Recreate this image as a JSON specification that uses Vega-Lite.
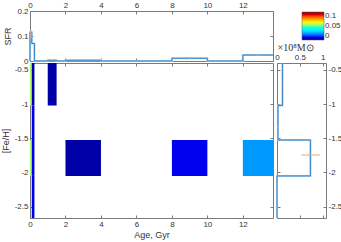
{
  "$schema": "https://vega.github.io/schema/vega-lite/v6.json",
  "padding": 0,
  "bounds": "flush",
  "spacing": 2,
  "config": {
    "font": "Liberation Sans",
    "locale": {"number": {"decimal": ".", "thousands": ",", "grouping": [3], "currency": ["$", ""], "minus": "-"}},
    "view": {"stroke": "#7a7a7a", "strokeWidth": 1},
    "axis": {"grid": false, "domain": false, "tickColor": "#7a7a7a", "tickSize": -3, "labelPadding": 5, "labelFontSize": 8, "labelColor": "#333333", "titleFontSize": 9, "titleFontWeight": "normal", "titleColor": "#333333", "labelFont": "Liberation Sans", "titleFont": "Liberation Sans", "labelFlush": false, "labelOverlap": false}
  },
  "datasets": {
    "sfr": [
      {"i": 0, "age": 0, "sfr": 0},
      {"i": 1, "age": 0, "sfr": 0.115},
      {"i": 2, "age": 0.1, "sfr": 0.07},
      {"i": 3, "age": 0.25, "sfr": 0},
      {"i": 4, "age": 1, "sfr": 0.003},
      {"i": 5, "age": 1.5, "sfr": 0},
      {"i": 6, "age": 2, "sfr": 0.003},
      {"i": 7, "age": 4, "sfr": 0},
      {"i": 8, "age": 8, "sfr": 0.011},
      {"i": 9, "age": 10, "sfr": 0},
      {"i": 10, "age": 12, "sfr": 0.024},
      {"i": 11, "age": 13.7, "sfr": 0.024}
    ],
    "sfrerr": [
      {"age": 0.05, "lo": 0.09, "hi": 0.125},
      {"age": 1.25, "lo": 0.001, "hi": 0.006},
      {"age": 9, "lo": 0.008, "hi": 0.015},
      {"age": 12.85, "lo": 0.02, "hi": 0.029}
    ],
    "cells": [
      {"a0": 0, "a1": 0.1, "f0": -1.02, "f1": -0.4, "v": 0.056},
      {"a0": 0.1, "a1": 0.25, "f0": -1.02, "f1": -0.4, "v": 0.003},
      {"a0": 0, "a1": 0.1, "f0": -2.05, "f1": -1.525, "v": 0.056},
      {"a0": 0.1, "a1": 0.25, "f0": -1.525, "f1": -1.02, "v": 0.0106},
      {"a0": 0.1, "a1": 0.25, "f0": -2.05, "f1": -1.525, "v": 0.0106},
      {"a0": 0.1, "a1": 0.25, "f0": -2.665, "f1": -2.05, "v": 0.0106},
      {"a0": 1, "a1": 1.5, "f0": -1.02, "f1": -0.4, "v": 0.003},
      {"a0": 2, "a1": 4, "f0": -2.05, "f1": -1.525, "v": 0.003},
      {"a0": 8, "a1": 10, "f0": -2.05, "f1": -1.525, "v": 0.0106},
      {"a0": 12, "a1": 13.7, "f0": -2.05, "f1": -1.525, "v": 0.0235}
    ],
    "mass": [
      {"i": 0, "m": 0.12, "f": -0.4},
      {"i": 1, "m": 0.02, "f": -1.02},
      {"i": 2, "m": 0.73, "f": -1.525},
      {"i": 3, "m": 0, "f": -2.05},
      {"i": 4, "m": 0, "f": -2.665}
    ],
    "masserr": [
      {"f": -0.72, "lo": 0.1, "hi": 0.14},
      {"f": -1.34, "lo": 0.0, "hi": 0.03},
      {"f": -1.745, "lo": 0.53, "hi": 0.94}
    ]
  },
  "vconcat": [
    {
      "width": 243,
      "height": 50,
      "resolve": {"axis": {"x": "independent", "y": "independent"}},
      "layer": [
        {
          "data": {"name": "sfr"},
          "mark": {"type": "line", "interpolate": "step-after", "color": "#a6cdec", "strokeWidth": 2},
          "encoding": {
            "x": {"field": "age", "type": "quantitative", "scale": {"domain": [0, 13.7], "nice": false, "zero": false}, "axis": {"orient": "top", "values": [0, 2, 4, 6, 8, 10, 12], "title": null}},
            "y": {"field": "sfr", "type": "quantitative", "scale": {"domain": [0, 0.2], "nice": false}, "axis": {"orient": "left", "values": [0, 0.1, 0.2], "format": "~g", "title": "SFR"}},
            "order": {"field": "i", "type": "quantitative"}
          }
        },
        {
          "data": {"name": "sfr"},
          "mark": {"type": "line", "interpolate": "step-after", "color": "#3d85c6", "strokeWidth": 1},
          "encoding": {
            "x": {"field": "age", "type": "quantitative", "axis": {"orient": "bottom", "values": [0, 2, 4, 6, 8, 10, 12], "labels": false, "title": null}},
            "y": {"field": "sfr", "type": "quantitative", "axis": {"orient": "right", "values": [0, 0.1, 0.2], "labels": false, "title": null}},
            "order": {"field": "i", "type": "quantitative"}
          }
        },
        {
          "data": {"name": "sfrerr"},
          "mark": {"type": "rule", "color": "#f2a283", "strokeWidth": 1},
          "encoding": {
            "x": {"field": "age", "type": "quantitative", "axis": null},
            "y": {"field": "lo", "type": "quantitative", "axis": null},
            "y2": {"field": "hi"}
          }
        }
      ]
    },
    {
      "spacing": 4,
      "bounds": "flush",
      "hconcat": [
        {
          "width": 243,
          "height": 155,
          "resolve": {"axis": {"x": "independent", "y": "independent"}},
          "layer": [
            {
              "data": {"name": "cells"},
              "mark": {"type": "rect"},
              "encoding": {
                "x": {"field": "a0", "type": "quantitative", "scale": {"domain": [0, 13.7], "nice": false, "zero": false}, "axis": {"orient": "bottom", "values": [0, 2, 4, 6, 8, 10, 12], "title": "Age, Gyr", "titlePadding": 2}},
                "x2": {"field": "a1"},
                "y": {"field": "f0", "type": "quantitative", "scale": {"domain": [-2.665, -0.4], "nice": false, "zero": false}, "axis": {"orient": "left", "values": [-2.5, -2, -1.5, -1, -0.5], "format": "~g", "title": "[Fe/H]"}},
                "y2": {"field": "f1"},
                "color": {
                  "field": "v", "type": "quantitative",
                  "scale": {"domain": [0, 0.0125, 0.0375, 0.0625, 0.0875, 0.1], "range": ["#00008f", "#0000ff", "#00ffff", "#ffff00", "#ff0000", "#800000"]},
                  "legend": {"orient": "none", "legendX": 272, "legendY": 1, "direction": "vertical", "gradientLength": 28, "gradientThickness": 22, "title": null, "values": [0, 0.05, 0.1], "format": "~g", "labelFontSize": 8, "labelColor": "#333333", "gradientStrokeColor": "#555555", "gradientStrokeWidth": 0.5, "labelOffset": 1}
                }
              }
            },
            {
              "data": {"name": "cells"},
              "mark": {"type": "rect", "opacity": 0},
              "encoding": {
                "x": {"field": "a0", "type": "quantitative", "axis": {"orient": "top", "values": [0, 2, 4, 6, 8, 10, 12], "labels": false, "title": null}},
                "x2": {"field": "a1"},
                "y": {"field": "f0", "type": "quantitative", "axis": {"orient": "right", "values": [-2.5, -2, -1.5, -1, -0.5], "labels": false, "title": null}},
                "y2": {"field": "f1"}
              }
            }
          ]
        },
        {
          "width": 49,
          "height": 155,
          "resolve": {"axis": {"x": "independent", "y": "independent"}},
          "layer": [
            {
              "data": {"name": "mass"},
              "mark": {"type": "line", "interpolate": "step-before", "color": "#a6cdec", "strokeWidth": 2},
              "encoding": {
                "x": {"field": "m", "type": "quantitative", "scale": {"domain": [0, 1.07], "nice": false, "zero": false}, "axis": {"orient": "top", "values": [0, 0.5, 1], "format": "~g", "title": "×10⁸M⊙", "titleFont": "Liberation Serif", "titleFontSize": 10, "titlePadding": 1, "titleAnchor": "start", "titleAlign": "left"}},
                "y": {"field": "f", "type": "quantitative", "scale": {"domain": [-2.665, -0.4], "nice": false, "zero": false}, "axis": {"orient": "right", "values": [-2.5, -2, -1.5, -1, -0.5], "format": "~g", "title": null}},
                "order": {"field": "i", "type": "quantitative"}
              }
            },
            {
              "data": {"name": "mass"},
              "mark": {"type": "line", "interpolate": "step-before", "color": "#3d85c6", "strokeWidth": 1},
              "encoding": {
                "x": {"field": "m", "type": "quantitative", "axis": {"orient": "bottom", "values": [0, 0.5, 1], "labels": false, "title": null}},
                "y": {"field": "f", "type": "quantitative", "axis": {"orient": "left", "values": [-2.5, -2, -1.5, -1, -0.5], "labels": false, "title": null}},
                "order": {"field": "i", "type": "quantitative"}
              }
            },
            {
              "data": {"name": "masserr"},
              "mark": {"type": "rule", "color": "#f2a283", "strokeWidth": 1},
              "encoding": {
                "x": {"field": "lo", "type": "quantitative", "axis": null},
                "x2": {"field": "hi"},
                "y": {"field": "f", "type": "quantitative", "axis": null}
              }
            }
          ]
        }
      ]
    }
  ]
}
